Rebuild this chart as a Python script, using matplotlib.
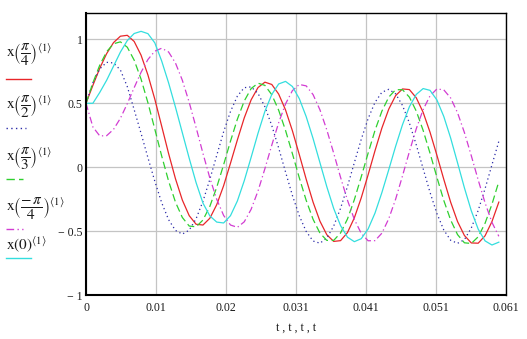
import matplotlib
matplotlib.use("Agg")
import matplotlib.pyplot as plt
from matplotlib.lines import Line2D
import numpy as np

# sample times (s)
t = np.linspace(0.0, 0.060, 61)

# x(pi/4)<1>
x_pi4 = [0.500, 0.640, 0.774, 0.888, 0.974, 1.024, 1.031, 0.983, 0.876, 0.721,
         0.532, 0.321, 0.108, -0.089, -0.256, -0.378, -0.445, -0.451, -0.398, -0.292,
         -0.144, 0.032, 0.214, 0.386, 0.527, 0.623, 0.665, 0.647, 0.572, 0.448,
         0.285, 0.099, -0.093, -0.272, -0.421, -0.527, -0.579, -0.573, -0.510, -0.395,
         -0.239, -0.059, 0.129, 0.306, 0.454, 0.560, 0.612, 0.607, 0.543, 0.429,
         0.274, 0.094, -0.094, -0.273, -0.424, -0.533, -0.591, -0.593, -0.535, -0.424,
         -0.272]

# x(pi/2)<1>
x_pi2 = [0.500, 0.660, 0.769, 0.820, 0.815, 0.760, 0.630, 0.450, 0.265, 0.075,
         -0.109, -0.277, -0.409, -0.493, -0.522, -0.491, -0.402, -0.265, -0.094, 0.093,
         0.277, 0.436, 0.556, 0.622, 0.628, 0.577, 0.473, 0.326, 0.151, -0.037,
         -0.220, -0.379, -0.501, -0.576, -0.593, -0.553, -0.459, -0.320, -0.150, 0.036,
         0.218, 0.380, 0.507, 0.586, 0.609, 0.574, 0.483, 0.346, 0.175, -0.011,
         -0.196, -0.361, -0.490, -0.570, -0.594, -0.565, -0.474, -0.337, -0.167, 0.019,
         0.203]

# x(pi/3)<1>
x_pi3 = [0.500, 0.660, 0.798, 0.903, 0.965, 0.980, 0.938, 0.837, 0.689, 0.504,
         0.298, 0.088, -0.107, -0.272, -0.392, -0.459, -0.465, -0.412, -0.305, -0.156,
         0.020, 0.204, 0.376, 0.518, 0.615, 0.657, 0.640, 0.567, 0.446, 0.288,
         0.106, -0.082, -0.258, -0.406, -0.514, -0.571, -0.571, -0.513, -0.404, -0.253,
         -0.075, 0.110, 0.288, 0.438, 0.548, 0.606, 0.606, 0.548, 0.439, 0.288,
         0.110, -0.078, -0.259, -0.412, -0.526, -0.590, -0.595, -0.543, -0.437, -0.289,
         -0.112]

# x(-pi/4)<1>
x_mpi4 = [0.500, 0.315, 0.245, 0.247, 0.296, 0.383, 0.497, 0.622, 0.742, 0.842,
          0.907, 0.930, 0.901, 0.815, 0.680, 0.507, 0.311, 0.108, -0.084, -0.250,
          -0.376, -0.451, -0.469, -0.426, -0.328, -0.185, -0.011, 0.173, 0.348, 0.495,
          0.599, 0.647, 0.636, 0.568, 0.449, 0.292, 0.110, -0.079, -0.257, -0.407,
          -0.516, -0.574, -0.573, -0.515, -0.402, -0.249, -0.067, 0.122, 0.301, 0.451,
          0.558, 0.612, 0.605, 0.541, 0.426, 0.271, 0.090, -0.099, -0.278, -0.430,
          -0.539]

# x(0)<1>
x_0 = [0.500, 0.500, 0.585, 0.680, 0.790, 0.900, 0.990, 1.045, 1.062, 1.044,
       0.972, 0.830, 0.660, 0.470, 0.270, 0.070, -0.120, -0.280, -0.380, -0.428,
       -0.435, -0.378, -0.263, -0.105, 0.078, 0.266, 0.437, 0.569, 0.651, 0.671,
       0.631, 0.536, 0.396, 0.225, 0.036, -0.152, -0.322, -0.456, -0.546, -0.581,
       -0.558, -0.482, -0.358, -0.198, -0.019, 0.164, 0.333, 0.473, 0.569, 0.615,
       0.601, 0.526, 0.397, 0.228, 0.035, -0.161, -0.340, -0.483, -0.575, -0.607,
       -0.585]

x_ticks = [0.0, 0.061 / 6, 0.061 * 2 / 6, 0.061 * 3 / 6, 0.061 * 4 / 6, 0.061 * 5 / 6, 0.061]
x_ticklabels = ["0", "0.01", "0.02", "0.031", "0.041", "0.051", "0.061"]
y_ticks = [-1.0, -0.5, 0.0, 0.5, 1.0]
y_ticklabels = ["\u2212 1", "\u2212 0.5", "0", "0.5", "1"]

legend_labels = [
    r"$\mathrm{x}\left(\dfrac{\pi}{4}\right)^{\langle 1\rangle}$",
    r"$\mathrm{x}\left(\dfrac{\pi}{2}\right)^{\langle 1\rangle}$",
    r"$\mathrm{x}\left(\dfrac{\pi}{3}\right)^{\langle 1\rangle}$",
    r"$\mathrm{x}\left(\dfrac{-\,\pi}{4}\right)^{\langle 1\rangle}$",
    r"$\mathrm{x}(0)^{\langle 1\rangle}$",
]

plt.rcParams['font.family'] = ['Liberation Serif', 'DejaVu Serif']
plt.rcParams['mathtext.fontset'] = 'stix'

styles = [
    dict(color='#e8262a', linestyle='-'),
    dict(color='#2a2aa8', linestyle=(0, (1.0, 2.4))),
    dict(color='#2fd02f', linestyle=(0, (6.0, 3.0))),
    dict(color='#d23cd2', linestyle=(0, (5.5, 2.4, 1.0, 2.4))),
    dict(color='#33dede', linestyle='-'),
]
series = [x_pi4, x_pi2, x_pi3, x_mpi4, x_0]

fig = plt.figure(figsize=(5.27, 3.39), dpi=100)
ax = fig.add_axes([0.1632, 0.1289, 0.7964, 0.8319])

for ys, st in zip(series, styles):
    ax.plot(t, ys, lw=0.9, **st)

ax.set_xlim(0, 0.061)
ax.set_ylim(-1.0, 1.203)
ax.set_xticks(x_ticks)
ax.set_xticklabels(x_ticklabels)
ax.set_yticks(y_ticks)
ax.set_yticklabels(y_ticklabels)
ax.tick_params(length=0, labelsize=8.5, colors='#1a1a1a')
ax.tick_params(axis='x', pad=4.5)
ax.tick_params(axis='y', pad=2.5)
ax.grid(True, color='#c4c4c4', lw=0.9)
ax.set_axisbelow(True)
for side in ['left', 'bottom']:
    ax.spines[side].set_linewidth(1.5)
for side in ['top', 'right']:
    ax.spines[side].set_linewidth(1.0)
ax.set_xlabel("t , t , t , t", fontsize=8.5, labelpad=6, color='#1a1a1a')

# legend column on the left
text_y = [0.838, 0.685, 0.533, 0.386, 0.277]
line_y = [0.767, 0.622, 0.472, 0.324, 0.239]
line_x1 = [0.059, 0.049, 0.044, 0.044, 0.059]
for lab, ty, ly, x1, st in zip(legend_labels, text_y, line_y, line_x1, styles):
    fig.text(0.012, ty, lab, fontsize=11, va='center', ha='left', color='#1a1a1a')
    fig.add_artist(Line2D([0.012, x1], [ly, ly], transform=fig.transFigure,
                          lw=1.0, **st))

fig.savefig("out.png", dpi=100)
